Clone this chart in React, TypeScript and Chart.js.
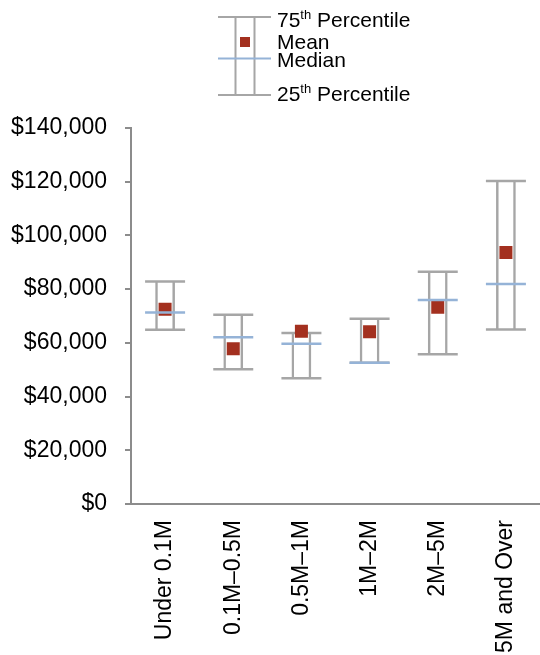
import React, { useEffect, useRef } from "react";
import { Chart, registerables } from "chart.js";

Chart.register(...registerables);

const categories = ["Under 0.1M", "0.1M–0.5M", "0.5M–1M", "1M–2M", "2M–5M", "5M and Over"];
const percentile75 = [82800, 70500, 63700, 69000, 86500, 120300];
const percentile25 = [64900, 50200, 46800, 52600, 55800, 65000];
const medians = [71300, 62100, 59700, 52600, 76000, 81900];
const means = [72500, 57800, 64300, 64100, 73300, 93600];
const yMin = 0;
const yMax = 140000;
const yStep = 20000;

const GRAY = "#a6a6a6";
const AXIS = "#8c8c8c";
const BLUE = "#95b3d7";
const RED = "#a3301f";
const FONT = "'Liberation Sans', Arial, sans-serif";

function money(v: number): string {
  const s = String(Math.round(v));
  return "$" + s.replace(/\B(?=(\d{3})+(?!\d))/g, ",");
}

const legendPlugin = {
  id: "boxLegend",
  afterDraw(chart: any) {
    const ctx = chart.ctx;
    ctx.save();
    ctx.strokeStyle = GRAY;
    ctx.lineWidth = 2;
    ctx.beginPath();
    ctx.moveTo(218, 17); ctx.lineTo(271, 17);
    ctx.moveTo(218, 95); ctx.lineTo(271, 95);
    ctx.moveTo(235.5, 17); ctx.lineTo(235.5, 95);
    ctx.moveTo(254.5, 17); ctx.lineTo(254.5, 95);
    ctx.stroke();
    ctx.fillStyle = RED;
    ctx.fillRect(240, 37, 10, 10);
    ctx.strokeStyle = BLUE;
    ctx.beginPath();
    ctx.moveTo(218, 58.5); ctx.lineTo(271, 58.5);
    ctx.stroke();
    ctx.fillStyle = "#000";
    ctx.textBaseline = "alphabetic";
    ctx.textAlign = "left";
    const big = "21px " + FONT;
    const small = "13px " + FONT;
    const sup = (num: string, x: number, y: number) => {
      ctx.font = big;
      ctx.fillText(num, x, y);
      let w = ctx.measureText(num).width;
      ctx.font = small;
      ctx.fillText("th", x + w, y - 8);
      w += ctx.measureText("th").width;
      ctx.font = big;
      ctx.fillText(" Percentile", x + w, y);
    };
    sup("75", 277, 27);
    ctx.font = big;
    ctx.fillText("Mean", 277, 49);
    ctx.fillText("Median", 277, 66.5);
    sup("25", 277, 100.5);
    ctx.restore();
  },
};

export default function App() {
  const ref = useRef<HTMLCanvasElement | null>(null);
  useEffect(() => {
    if (!ref.current) return;
    const chart = new Chart(ref.current, {
      type: "bar",
      data: {
        labels: categories,
        datasets: [
          {
            type: "line",
            label: "Median",
            data: medians,
            showLine: false,
            pointStyle: "line",
            pointRadius: 20,
            pointHoverRadius: 20,
            pointBorderColor: BLUE,
            pointBorderWidth: 2.5,
            borderColor: BLUE,
            order: 0,
          } as any,
          {
            type: "line",
            label: "Mean",
            data: means,
            showLine: false,
            pointStyle: "rect",
            pointRadius: 9.2,
            pointHoverRadius: 9.2,
            pointBackgroundColor: RED,
            pointBorderColor: RED,
            pointBorderWidth: 0,
            order: 1,
          } as any,
          {
            type: "line",
            label: "75th Percentile",
            data: percentile75,
            showLine: false,
            pointStyle: "line",
            pointRadius: 20,
            pointHoverRadius: 20,
            pointBorderColor: GRAY,
            pointBorderWidth: 2.5,
            order: 2,
          } as any,
          {
            type: "line",
            label: "25th Percentile",
            data: percentile25,
            showLine: false,
            pointStyle: "line",
            pointRadius: 20,
            pointHoverRadius: 20,
            pointBorderColor: GRAY,
            pointBorderWidth: 2.5,
            order: 2,
          } as any,
          {
            type: "bar",
            label: "Range",
            data: categories.map((_, i) => [percentile25[i], percentile75[i]]),
            backgroundColor: "rgba(0,0,0,0)",
            borderColor: GRAY,
            borderWidth: { left: 2.5, right: 2.5, top: 0, bottom: 0 },
            borderSkipped: false,
            barPercentage: 0.29,
            categoryPercentage: 1,
            order: 3,
          } as any,
        ],
      },
      options: {
        responsive: false,
        animation: false,
        devicePixelRatio: 1,
        layout: { autoPadding: false, padding: { top: 128, left: 0, right: 0, bottom: 0 } },
        plugins: { legend: { display: false }, tooltip: { enabled: false } },
        scales: {
          x: {
            grid: { display: false, drawTicks: false },
            border: { display: true, color: AXIS, width: 2 },
            ticks: {
              color: "#000",
              font: { family: FONT, size: 23 },
              minRotation: 90,
              maxRotation: 90,
              autoSkip: false,
              padding: 16,
            },
            afterFit: (s: any) => {
              s.height = 151;
              s.paddingLeft = 0;
              s.paddingRight = 0;
            },
          },
          y: {
            min: yMin,
            max: yMax,
            grid: { display: true, drawOnChartArea: false, drawTicks: true, tickLength: 6, color: AXIS, lineWidth: 2 },
            border: { display: true, color: AXIS, width: 2 },
            ticks: {
              stepSize: yStep,
              color: "#000",
              font: { family: FONT, size: 23 },
              padding: 18,
              callback: (v: any) => money(Number(v)),
            },
            afterFit: (s: any) => {
              s.width = 131;
              s.paddingTop = 0;
              s.paddingBottom = 0;
            },
          },
        },
      },
      plugins: [legendPlugin],
    });
    return () => chart.destroy();
  }, []);
  return (
    <div style={{ position: "absolute", left: 0, top: 0, width: 540, height: 655, background: "#fff" }}>
      <canvas ref={ref} width={540} height={655} style={{ display: "block", width: 540, height: 655 }} />
    </div>
  );
}
